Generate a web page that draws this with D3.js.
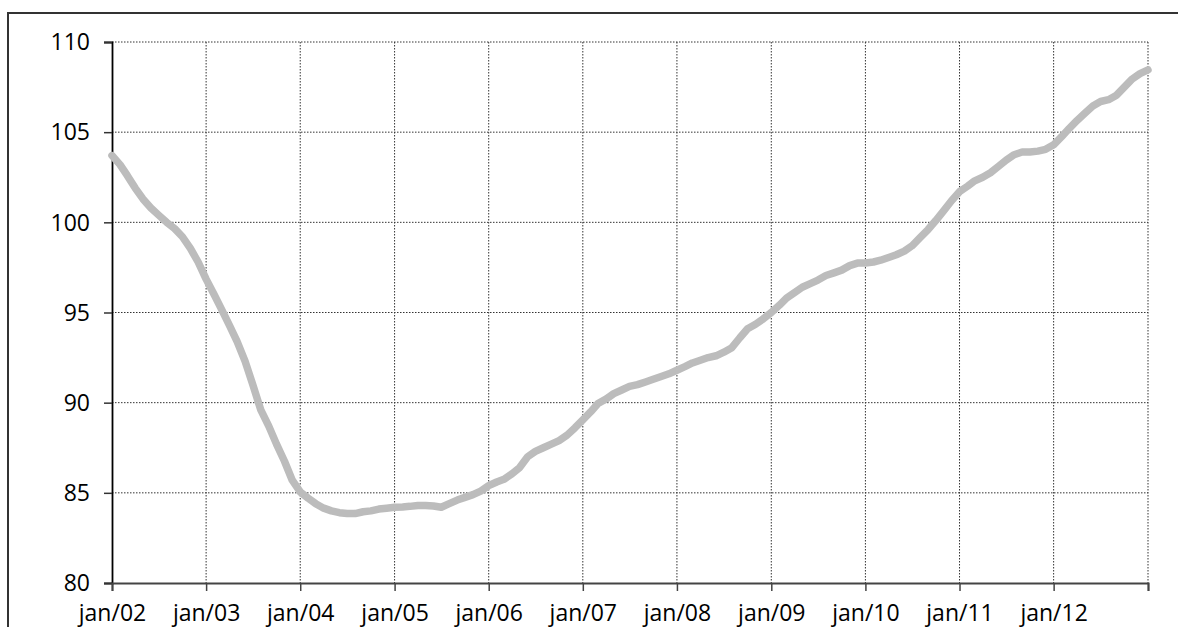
<!DOCTYPE html>
<html>
<head>
<meta charset="utf-8">
<script src="https://cdn.jsdelivr.net/npm/d3@7"></script>
<style>
  html, body { margin: 0; padding: 0; background: #fff; }
  svg { display: block; }
  text { font-family: "Open Sans", "DejaVu Sans", sans-serif; fill: #000; }
</style>
</head>
<body>
<div id="chart"></div>
<script>
// Monthly index values, jan/02 .. jan/13
const startMonth = "2002-01";
const values = [
  103.7, 103.2, 102.6, 101.9, 101.3, 100.8, 100.4, 100.0, 99.65, 99.2, 98.55, 97.8,
  96.85, 96.0, 95.2, 94.3, 93.4, 92.3, 91.0, 89.6, 88.7, 87.7, 86.75, 85.7,
  85.05, 84.7, 84.4, 84.15, 84.0, 83.9, 83.85, 83.85, 83.95, 84.0, 84.1, 84.15,
  84.2, 84.22, 84.25, 84.3, 84.3, 84.27, 84.2, 84.4, 84.6, 84.75, 84.9, 85.1,
  85.4, 85.6, 85.75, 86.05, 86.4, 87.0, 87.3, 87.5, 87.7, 87.9, 88.2, 88.6,
  89.05, 89.5, 89.95, 90.2, 90.5, 90.7, 90.9, 91.0, 91.15, 91.3, 91.45, 91.6,
  91.8, 92.0, 92.2, 92.35, 92.5, 92.6, 92.8, 93.05, 93.6, 94.1, 94.35, 94.65,
  95.0, 95.4, 95.8, 96.1, 96.4, 96.6, 96.8, 97.05, 97.2, 97.35, 97.6, 97.74,
  97.74, 97.8, 97.9, 98.05, 98.2, 98.4, 98.7, 99.15, 99.6, 100.1, 100.65, 101.2,
  101.7, 102.0, 102.3, 102.5, 102.75, 103.1, 103.45, 103.75, 103.9, 103.9, 103.95, 104.05,
  104.3, 104.75, 105.2, 105.65, 106.05, 106.45, 106.7, 106.8, 107.05, 107.5, 107.95, 108.25,
  108.45
];
const xTickLabels = ["jan/02","jan/03","jan/04","jan/05","jan/06","jan/07","jan/08","jan/09","jan/10","jan/11","jan/12",""];
const yTicks = [80, 85, 90, 95, 100, 105, 110];

const W = 1178, H = 627;

const parse = d3.timeParse("%Y-%m");
const t0 = parse(startMonth);
const data = values.map((v, i) => ({ date: d3.timeMonth.offset(t0, i), value: v }));
const xTicks = xTickLabels.map((_, i) => d3.timeYear.offset(t0, i));

const svg = d3.select("#chart").append("svg").attr("width", W).attr("height", H);

// outer frame (top and left edges visible)
svg.append("path")
  .attr("d", `M8,${H} L8,13 L${W},13`)
  .attr("fill", "none").attr("stroke", "#333").attr("stroke-width", 2);

const x = d3.scaleTime().domain([xTicks[0], xTicks[xTicks.length - 1]]).range([112, 1148]);
const y = d3.scaleLinear().domain([80, 110]).range([583, 42]);

// gridlines
const grid = svg.append("g").attr("stroke", "#333").attr("stroke-width", 1).attr("stroke-dasharray", "1.5,1.5");
grid.selectAll("line.h").data(yTicks.filter(d => d > 80)).join("line")
  .attr("x1", x.range()[0]).attr("x2", x.range()[1])
  .attr("y1", d => y(d)).attr("y2", d => y(d));
grid.selectAll("line.v").data(xTicks.slice(1)).join("line")
  .attr("x1", d => x(d)).attr("x2", d => x(d))
  .attr("y1", y(110)).attr("y2", y(80));

// y axis
const yAxis = svg.append("g").attr("transform", `translate(${x.range()[0]},0)`)
  .call(d3.axisLeft(y).tickValues(yTicks).tickSize(8).tickPadding(14).tickFormat(d3.format("d")));
yAxis.select(".domain").attr("stroke", "#000").attr("stroke-width", 1.8);
yAxis.selectAll(".tick line").attr("stroke", "#333").attr("stroke-width", 1.5);
yAxis.selectAll(".tick text").style("font-size", "23px").attr("fill", "#000").attr("dy", "0.34em");

// x axis
const xAxis = svg.append("g").attr("transform", `translate(0,${y(80)})`)
  .call(d3.axisBottom(x).tickValues(xTicks).tickSize(8).tickPadding(14)
    .tickFormat((d, i) => xTickLabels[i]));
xAxis.select(".domain").attr("stroke", "#444").attr("stroke-width", 2);
xAxis.selectAll(".tick line").attr("stroke", "#444").attr("stroke-width", 1.5);
xAxis.selectAll(".tick text").style("font-size", "23px").attr("fill", "#000");

// data line
svg.append("path").datum(data)
  .attr("fill", "none")
  .attr("stroke", "#bcbcbc")
  .attr("stroke-width", 7.5)
  .attr("stroke-linejoin", "round")
  .attr("stroke-linecap", "round")
  .attr("d", d3.line().x(d => x(d.date)).y(d => y(d.value)));
</script>
</body>
</html>
